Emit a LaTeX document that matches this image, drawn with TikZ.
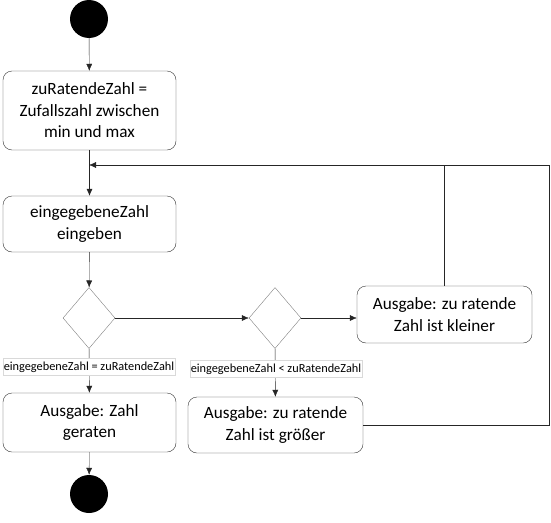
\documentclass[tikz,border=0pt]{standalone}
\usepackage{fontspec}
\setmainfont{Carlito}
\usetikzlibrary{shapes.geometric,arrows.meta}
\tikzset{
    act/.style={draw=black!80,rounded corners=9pt,align=center,inner sep=2pt,
        font=\fontsize{17.2}{21.5}\selectfont},
    dec/.style={draw=black!50,diamond,minimum width=52pt,minimum height=61pt,inner sep=0pt},
    ende/.style={circle,fill=black,minimum size=38pt,inner sep=0pt},
    guard/.style={fill=white,draw=black!15,inner sep=1pt,minimum height=17pt,
        font=\fontsize{12.3}{13}\selectfont},
    flow/.style={draw=black!85,-{Latex[length=7pt,width=6pt]}}
}
\begin{document}
\begin{tikzpicture}[x=1pt,y=-1pt]
    \useasboundingbox (0,0) rectangle (551,522);
    \node[ende] (start) at (89,19){};
    \node[act,minimum width=173pt,minimum height=79pt] (init) at (89.5,110.5){zuRatendeZahl =\\Zufallszahl zwischen\\min und max};
    \coordinate (merge) at (89,165);
    \node[act,minimum width=173pt,minimum height=56pt] (input) at (89.5,224){eingegebeneZahl\\eingeben};
    \node[dec] (d1) at (89,318){};
    \node[dec] (d2) at (275,318){};
    \node[act,minimum width=175pt,minimum height=57pt] (kleiner) at (444.5,314.5){Ausgabe: zu ratende\\Zahl ist kleiner};
    \node[act,minimum width=173pt,minimum height=59pt] (geraten) at (89.5,422.5){Ausgabe: Zahl\\geraten};
    \node[act,minimum width=175pt,minimum height=56pt] (groesser) at (275.5,425){Ausgabe: zu ratende\\Zahl ist größer};
    \node[ende] (stop) at (89,494){};
    \coordinate (rand) at (549,165);

    \draw[flow] (start) -- (init);
    \draw[flow] (init) -- (input);
    \draw[flow] (input) -- (d1);
    \draw[flow] (d1) -- (d2);
    \draw[flow] (d2.east) -- (d2.east -| kleiner.west);
    \draw[flow] (d1) -- (geraten);
    \draw[flow] (d2) -- (groesser);
    \draw[flow] (geraten) -- (stop);
    \draw[flow] (kleiner.north) |- (merge);
    \draw[draw=black!85] (groesser.east) -| (rand) -- (kleiner.north |- rand);
    \node[guard] (g1) at (89,367){eingegebeneZahl = zuRatendeZahl};
    \node[guard] (g2) at (276,369){eingegebeneZahl < zuRatendeZahl};
\end{tikzpicture}
\end{document}
